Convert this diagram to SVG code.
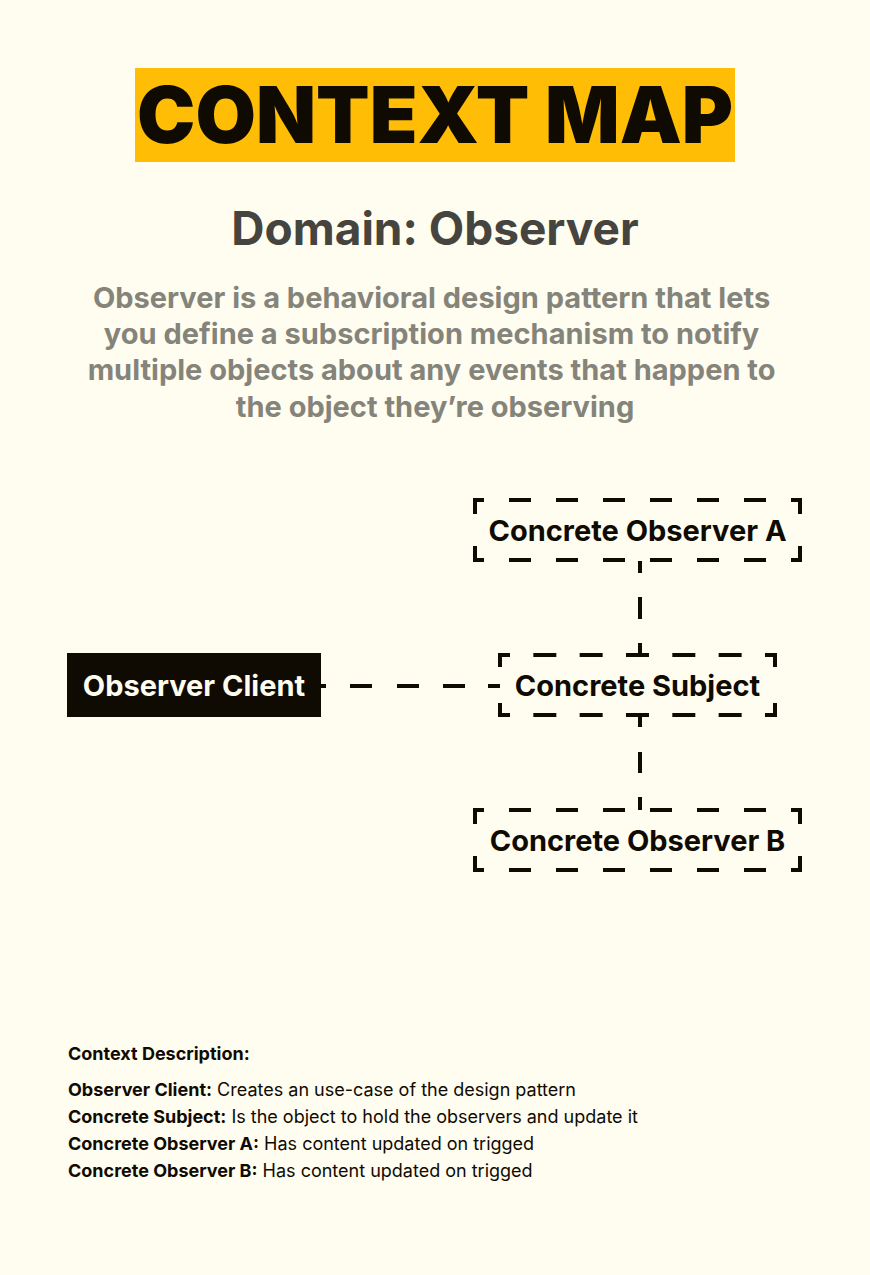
<svg xmlns="http://www.w3.org/2000/svg" width="870" height="1275" viewBox="0 0 870 1275">
<style>
.bg{fill:#fffcf0}
.title{font-family:Inter,"Noto Sans","Liberation Sans",sans-serif;font-weight:900;font-size:78px;fill:#0f0b02}
.domain{font-family:Inter,"Liberation Sans",sans-serif;font-weight:700;font-size:46px;fill:#45443e}
.desc{font-family:Inter,"Liberation Sans",sans-serif;font-weight:700;font-size:29px;fill:#85847a}
.lbl{font-family:Inter,"Liberation Sans",sans-serif;font-weight:700;font-size:29px;fill:#0f0b02}
.lblw{font-family:Inter,"Liberation Sans",sans-serif;font-weight:700;font-size:29px;fill:#fffcf0}
.edge{stroke:#0f0b02;stroke-width:4;fill:none}
.note{font-family:Inter,"Liberation Sans",sans-serif;font-size:18px;fill:#0f0b02}
.b{font-weight:700}
</style>
<rect class="bg" x="0" y="0" width="870" height="1275"/>
<g id="header">
<rect x="135" y="68" width="600" height="94" fill="#ffbd06"/>
<text class="title" x="435" y="143" text-anchor="middle" textLength="596" lengthAdjust="spacingAndGlyphs">CONTEXT MAP</text>
<text class="domain" x="435" y="245" text-anchor="middle">Domain: Observer</text>
<text class="desc" text-anchor="middle">
<tspan x="435" y="308">Observer is a behavioral design pattern that lets</tspan>
<tspan x="435" y="344">you define a subscription mechanism to notify</tspan>
<tspan x="435" y="380">multiple objects about any events that happen to</tspan>
<tspan x="435" y="417">the object they’re observing</tspan>
</text>
</g>
<g id="connectors">
<line class="edge" x1="640" y1="561" x2="640" y2="655" stroke-dasharray="12 24 22 24 12"/>
<line class="edge" x1="640" y1="715" x2="640" y2="810" stroke-dasharray="12 25 21 24 13"/>
<line class="edge" x1="320" y1="686" x2="500" y2="686" stroke-dasharray="6 24 22 25 22 24 22 23 12"/>
</g>
<g id="node-observer-a">
<g class="edge">
<line x1="475" y1="500" x2="800" y2="500" stroke-dasharray="22 25" stroke-dashoffset="13"/>
<line x1="475" y1="560" x2="800" y2="560" stroke-dasharray="22 25" stroke-dashoffset="13"/>
<line x1="475" y1="498" x2="475" y2="562" stroke-dasharray="16 32"/>
<line x1="800" y1="498" x2="800" y2="562" stroke-dasharray="16 32"/>
</g>
<text class="lbl" x="637.5" y="541" text-anchor="middle">Concrete Observer A</text>
</g>
<g id="node-subject">
<g class="edge">
<line x1="500" y1="655" x2="775" y2="655" stroke-dasharray="23 23.33" stroke-dashoffset="13"/>
<line x1="500" y1="715" x2="775" y2="715" stroke-dasharray="23 23.33" stroke-dashoffset="13"/>
<line x1="500" y1="653" x2="500" y2="717" stroke-dasharray="14 36"/>
<line x1="775" y1="653" x2="775" y2="717" stroke-dasharray="14 36"/>
</g>
<text class="lbl" x="637.5" y="696" text-anchor="middle">Concrete Subject</text>
</g>
<g id="node-observer-b">
<g class="edge">
<line x1="475" y1="810" x2="800" y2="810" stroke-dasharray="22 25" stroke-dashoffset="13"/>
<line x1="475" y1="870" x2="800" y2="870" stroke-dasharray="22 25" stroke-dashoffset="13"/>
<line x1="475" y1="808" x2="475" y2="872" stroke-dasharray="16 32"/>
<line x1="800" y1="808" x2="800" y2="872" stroke-dasharray="16 32"/>
</g>
<text class="lbl" x="637.5" y="851" text-anchor="middle">Concrete Observer B</text>
</g>
<g id="node-client">
<rect x="67" y="653" width="254" height="64" fill="#0f0b02"/>
<text class="lblw" x="194" y="696" text-anchor="middle">Observer Client</text>
</g>
<g id="context-description">
<text class="note b" x="68" y="1060">Context Description:</text>
<text class="note" x="68" y="1096"><tspan class="b">Observer Client:</tspan> Creates an use-case of the design pattern</text>
<text class="note" x="68" y="1123"><tspan class="b">Concrete Subject:</tspan> Is the object to hold the observers and update it</text>
<text class="note" x="68" y="1150"><tspan class="b">Concrete Observer A:</tspan> Has content updated on trigged</text>
<text class="note" x="68" y="1177"><tspan class="b">Concrete Observer B:</tspan> Has content updated on trigged</text>
</g>
</svg>
